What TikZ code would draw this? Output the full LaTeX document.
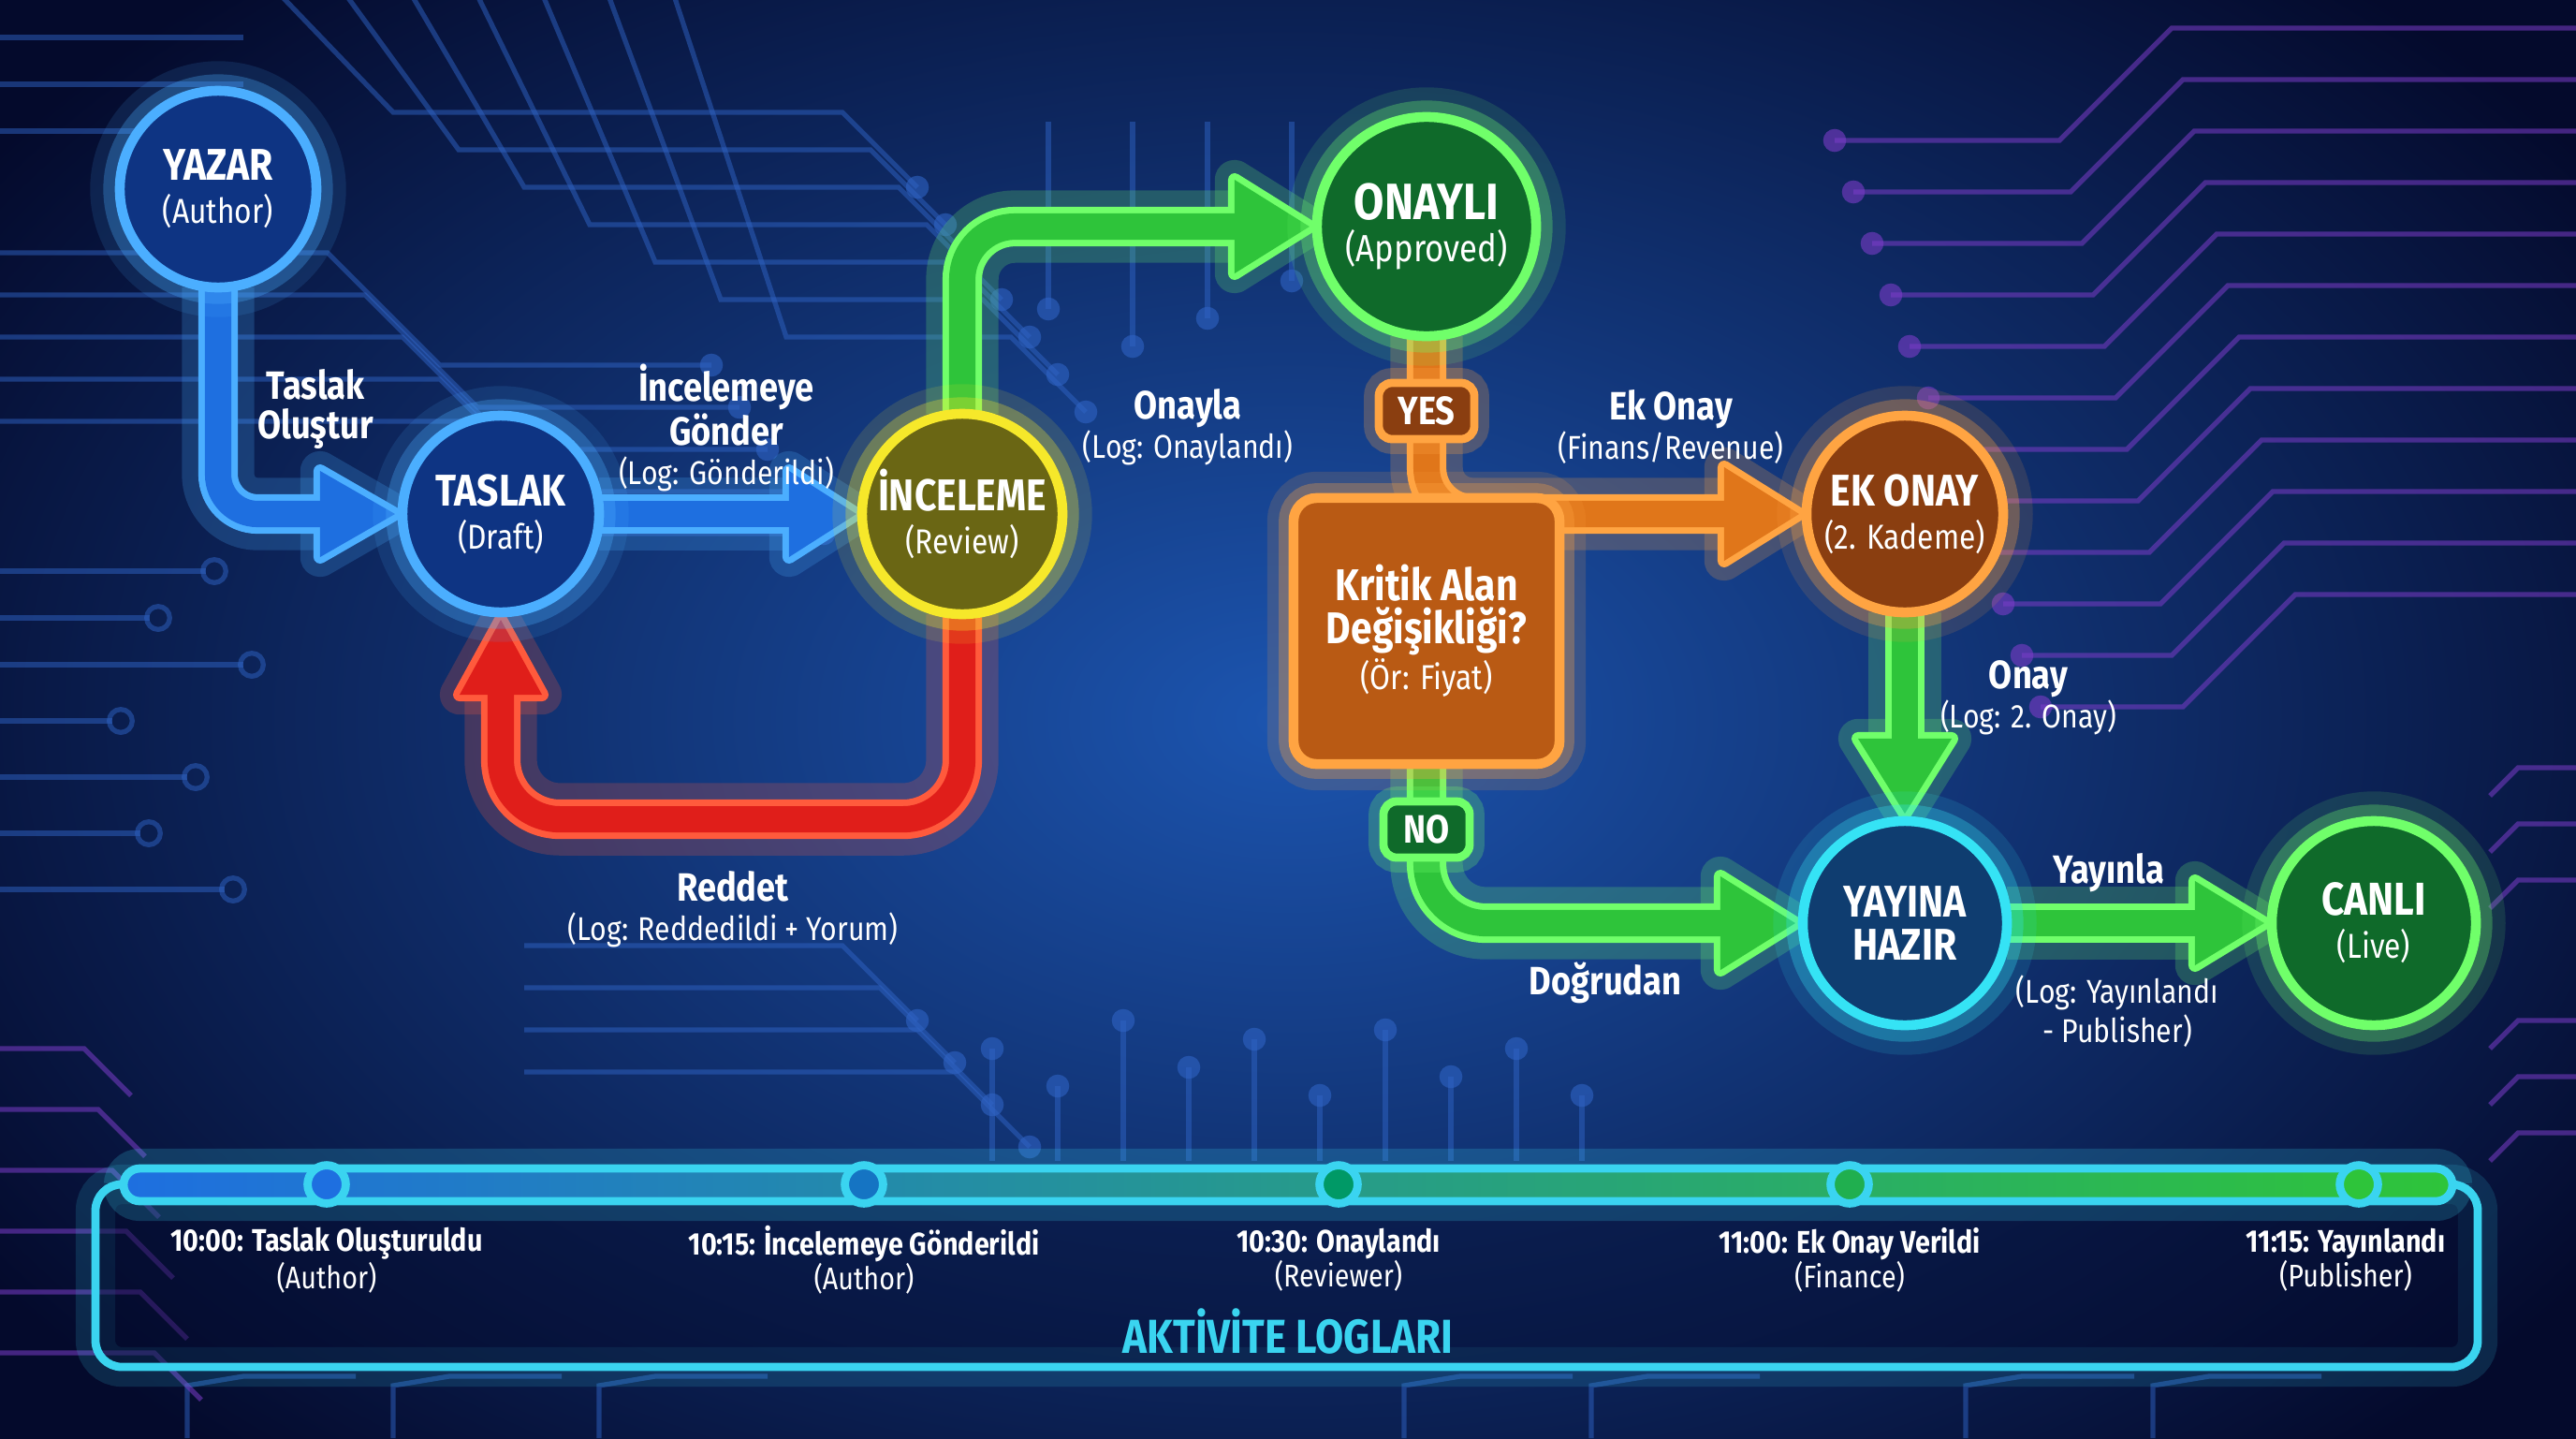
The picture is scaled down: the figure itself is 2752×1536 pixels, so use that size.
\documentclass[tikz,border=0pt]{standalone}
\usepackage{fontspec}
\setmainfont{Fira Sans}[FakeStretch=0.86]
\usetikzlibrary{calc}
\pgfdeclarelayer{bg}\pgfdeclarelayer{arr}
\pgfsetlayers{bg,arr,main}
\definecolor{bgin}{HTML}{1C55B0}
\definecolor{bgout}{HTML}{040A2C}
\definecolor{trace}{HTML}{2F63C4}
\definecolor{tracep}{HTML}{7A3CC8}
\definecolor{bfill}{HTML}{1E6FE0}
\definecolor{bedge}{HTML}{4BAEFF}
\definecolor{gfill}{HTML}{2EC43A}
\definecolor{gedge}{HTML}{70FF6A}
\definecolor{rfill}{HTML}{E01E1A}
\definecolor{redge}{HTML}{FF5A3C}
\definecolor{ofill}{HTML}{E0761A}
\definecolor{oedge}{HTML}{FFA442}
\definecolor{cyanr}{HTML}{35E3F5}
\definecolor{yedge}{HTML}{F6E82A}
\definecolor{nblue}{HTML}{0E3483}
\definecolor{nyell}{HTML}{6A6614}
\definecolor{ngreen}{HTML}{0F6A2A}
\definecolor{norange}{HTML}{8A3E10}
\definecolor{nteal}{HTML}{0F3D70}
\definecolor{boxo}{HTML}{B95A14}
\definecolor{tlc}{HTML}{3AD4F0}
\newcommand\fatarr[4]{%
  \draw[#2, draw opacity=0.22, line width=22pt, line join=round] #3;
  \filldraw[#2, opacity=0.22, line width=12pt, line join=round] #4;
  \draw[#2, line width=12pt] #3;
  \filldraw[#2, line width=4pt, line join=round] #4;
  \draw[#1, line width=8pt] #3;
  \fill[#1] #4;
}
\newcommand\NdT{\bfseries\fontsize{13.5}{15}\selectfont}
\newcommand\NdS{\mdseries\fontsize{10.5}{13}\selectfont}
\newcommand\LbT{\bfseries\fontsize{12}{14}\selectfont}
\tikzset{
  ring/.style n args={3}{circle, draw=#1, fill=#2, line width=3pt, minimum size=#3,
    inner sep=0pt, outer sep=0pt, text=white, align=center,
    font=\fontsize{10.5}{13}\selectfont,
    preaction={draw=#1, line width=18pt, draw opacity=0.13},
    preaction={draw=#1, line width=10pt, draw opacity=0.3}},
  lbl/.style={text=white, align=center, font=\fontsize{10}{12}\selectfont, inner sep=1pt},
  tag/.style n args={2}{rectangle, rounded corners=4pt, draw=#1, fill=#2, line width=2.5pt,
    text=white, font=\bfseries\fontsize{12}{14}\selectfont, inner sep=0pt, outer sep=0pt,
    preaction={draw=#1, line width=9pt, draw opacity=0.25}},
  trc/.style={line width=1.5pt, draw=trace, draw opacity=0.5},
  trp/.style={line width=1.5pt, draw=tracep, draw opacity=0.55},
  tlab/.style={text=white, align=center, font=\fontsize{9.5}{10.5}\selectfont, inner sep=0pt},
}
\begin{document}
\begin{tikzpicture}[x=0.01cm, y=-0.01cm]
\useasboundingbox (0,0) rectangle (2752,1536);
\begin{pgfonlayer}{bg}
\shade[inner color=bgin, outer color=bgout] (-300,-300) rectangle (3052,1836);
% top-left fan
\foreach \i in {0,...,6}{
  \draw[trc] (300+70*\i,-5) -- (420+70*\i,120+40*\i) -- (900+30*\i,120+40*\i) -- (980+30*\i,200+40*\i);
  \fill[trace,opacity=.6] (980+30*\i,200+40*\i) circle (3.5pt);
}
\foreach \i in {0,...,4}{
  \draw[trc] (0,270+45*\i) -- (350+40*\i,270+45*\i) -- (470+40*\i,390+45*\i) -- (760+30*\i,390+45*\i);
  \fill[trace,opacity=.6] (760+30*\i,390+45*\i) circle (3.5pt);
}
\foreach \y in {40,90,140}{\draw[trc] (0,\y) -- (260,\y);}
\foreach \y/\l in {610/220,660/160,710/260,770/120,830/200,890/150,950/240}{
  \draw[trc] (0,\y) -- (\l,\y);
  \draw[trc] (\l+9,\y) circle (3.5pt);
}
\foreach \x/\y in {1120/330,1210/370,1290/340,1380/300}{
  \draw[trc] (\x,130) -- (\x,\y);
  \fill[trace,opacity=.6] (\x,\y) circle (3.5pt);
}
\foreach \i in {0,...,3}{
  \draw[trc] (560,1010+45*\i) -- (900+40*\i,1010+45*\i) -- (980+40*\i,1090+45*\i);
  \fill[trace,opacity=.6] (980+40*\i,1090+45*\i) circle (3.5pt);
}
\foreach \x/\t in {1060/1120,1130/1160,1200/1090,1270/1140,1340/1110,1410/1170,1480/1100,1550/1150,1620/1120,1690/1170}{
  \draw[trc] (\x,1240) -- (\x,\t);
  \fill[trace,opacity=.6] (\x,\t) circle (3.5pt);
}
\foreach \x in {200,420,640,1500,1700,2100,2300}{
  \draw[trc] (\x,1536) -- (\x,1480) -- (\x+60,1470) -- (\x+180,1470);
}
% right purple fan
\foreach \i in {0,...,11}{
  \draw[trp] (2760,30+55*\i) -- (2320+12*\i,30+55*\i) -- (2200+12*\i,150+55*\i) -- (1960+20*\i,150+55*\i);
  \fill[tracep,opacity=.6] (1960+20*\i,150+55*\i) circle (3.5pt);
}
\foreach \y in {820,880,940,1090,1150,1210}{
  \draw[trp] (2760,\y) -- (2690,\y) -- (2660,\y+30);
}
\foreach \i in {0,...,5}{
  \draw[trp] (-5,1120+65*\i) -- (90+15*\i,1120+65*\i) -- (140+15*\i,1170+65*\i);
}
\end{pgfonlayer}

% nodes
\node[ring={bedge}{nblue}{2.10cm}] (yazar) at (233,202) {{\NdT YAZAR}\\{\NdS (Author)}};
\node[ring={bedge}{nblue}{2.10cm}] (taslak) at (535,549) {{\NdT TASLAK}\\{\NdS (Draft)}};
\node[ring={yedge}{nyell}{2.14cm}] (inceleme) at (1028,549) {{\NdT İNCELEME}\\{\NdS (Review)}};
\node[ring={gedge}{ngreen}{2.34cm}] (onayli) at (1524,242) {{\bfseries\fontsize{15.5}{17}\selectfont ONAYLI}\\{\fontsize{11.5}{14}\selectfont (Approved)}};
\node[rectangle, rounded corners=7pt, draw=oedge, fill=boxo, line width=3pt, minimum width=2.84cm, minimum height=2.84cm,
  inner sep=0pt, outer sep=0pt, text=white, align=center, font=\fontsize{10.5}{13}\selectfont,
  preaction={draw=oedge, line width=16pt, draw opacity=0.15}, preaction={draw=oedge, line width=9pt, draw opacity=0.3}]
  (karar) at (1524,674) {{\NdT Kritik Alan}\\{\NdT Değişikliği?}\\[1pt]{\NdS (Ör: Fiyat)}};
\node[tag={oedge}{norange}, minimum width=1.02cm, minimum height=0.6cm] (yes) at (1524,439) {YES};
\node[tag={gedge}{ngreen}, minimum width=0.92cm, minimum height=0.6cm] (no) at (1524,886) {NO};
\node[ring={oedge}{norange}{2.10cm}] (ekonay) at (2035,549) {{\NdT EK ONAY}\\{\NdS (2. Kademe)}};
\node[ring={cyanr}{nteal}{2.18cm}] (yayina) at (2035,986) {{\NdT YAYINA}\\{\NdT HAZIR}};
\node[ring={gedge}{ngreen}{2.18cm}] (canli) at (2536,986) {{\bfseries\fontsize{14}{15}\selectfont CANLI}\\{\NdS (Live)}};

% arrows
\begin{pgfonlayer}{arr}
\fatarr{bfill}{bedge}{(yazar.south) [rounded corners=12pt] |- ($(taslak.west)+(-76,0)$)}
  {($(taslak.west)+(-88,-46)$) -- ($(taslak.west)+(-8,0)$) -- ($(taslak.west)+(-88,46)$) -- cycle}
\fatarr{bfill}{bedge}{(taslak.east) -- ($(inceleme.west)+(-66,0)$)}
  {($(inceleme.west)+(-78,-46)$) -- ($(inceleme.west)+(-6,0)$) -- ($(inceleme.west)+(-78,46)$) -- cycle}
\fatarr{gfill}{gedge}{(inceleme.north) [rounded corners=16pt] |- ($(onayli.west)+(-76,0)$)}
  {($(onayli.west)+(-88,-50)$) -- ($(onayli.west)+(-8,0)$) -- ($(onayli.west)+(-88,50)$) -- cycle}
\fatarr{rfill}{redge}{(inceleme.south) [rounded corners=18pt] -- ++(0,219) -| ($(taslak.south)+(0,76)$)}
  {($(taslak.south)+(-44,88)$) -- ($(taslak.south)+(0,8)$) -- ($(taslak.south)+(44,88)$) -- cycle}
\fatarr{ofill}{oedge}{(onayli.south) [rounded corners=14pt] |- ($(ekonay.west)+(-76,0)$)}
  {($(ekonay.west)+(-88,-50)$) -- ($(ekonay.west)+(-8,0)$) -- ($(ekonay.west)+(-88,50)$) -- cycle}
\fatarr{gfill}{gedge}{(karar.south) [rounded corners=18pt] |- ($(yayina.west)+(-76,0)$)}
  {($(yayina.west)+(-88,-50)$) -- ($(yayina.west)+(-8,0)$) -- ($(yayina.west)+(-88,50)$) -- cycle}
\fatarr{gfill}{gedge}{(ekonay.south) -- ($(yayina.north)+(0,-76)$)}
  {($(yayina.north)+(-50,-88)$) -- ($(yayina.north)+(0,-8)$) -- ($(yayina.north)+(50,-88)$) -- cycle}
\fatarr{gfill}{gedge}{(yayina.east) -- ($(canli.west)+(-70,0)$)}
  {($(canli.west)+(-82,-45)$) -- ($(canli.west)+(-8,0)$) -- ($(canli.west)+(-82,45)$) -- cycle}
\end{pgfonlayer}

% labels
\node[lbl] (l1) at (337,437) {{\LbT Taslak}\\{\LbT Oluştur}};
\node[lbl] (l2) at (776,457) {{\LbT İncelemeye}\\{\LbT Gönder}\\(Log: Gönderildi)};
\node[lbl] (l3) at (1269,456) {{\LbT Onayla}\\(Log: Onaylandı)};
\node[lbl] (l4) at (783,971) {{\LbT Reddet}\\(Log: Reddedildi + Yorum)};
\node[lbl] (l5) at (1785,456) {{\LbT Ek Onay}\\(Finans/Revenue)};
\node[lbl] (l6) at (2167,745) {{\LbT Onay}\\(Log: 2. Onay)};
\node[lbl] (l7) at (1715,1050) {\LbT Doğrudan};
\node[lbl] (l8) at (2253,932) {\LbT Yayınla};
\node[lbl] (l9) at (2262,1080) {(Log: Yayınlandı\\- Publisher)};

% activity log panel
\draw[tlc, line width=12pt, draw opacity=0.15, rounded corners=8pt] (102,1265) rectangle (2647,1460);
\draw[tlc, line width=2.5pt, fill=bgout, fill opacity=0.45, rounded corners=8pt] (102,1265) rectangle (2647,1460);
\draw[tlc, line width=12pt, draw opacity=0.2, rounded corners=5pt] (132,1248) rectangle (2620,1283);
\shade[left color=bfill, middle color=teal!70!bfill, right color=gfill, rounded corners=5pt] (132,1248) rectangle (2620,1283);
\draw[tlc, line width=2.5pt, rounded corners=5pt] (132,1248) rectangle (2620,1283);
\foreach \x/\c in {349/bfill,923/bfill!70!teal,1430/teal!80!green,1976/gfill!70!teal,2520/gfill}{
  \draw[tlc, line width=2.5pt, fill=\c] (\x,1265) circle (5.8pt);
}
\node[tlab] (t1) at (349,1346) {{\bfseries 10:00: Taslak Oluşturuldu}\\(Author)};
\node[tlab] (t2) at (923,1346) {{\bfseries 10:15: İncelemeye Gönderildi}\\(Author)};
\node[tlab] (t3) at (1430,1346) {{\bfseries 10:30: Onaylandı}\\(Reviewer)};
\node[tlab] (t4) at (1976,1346) {{\bfseries 11:00: Ek Onay Verildi}\\(Finance)};
\node[tlab] (t5) at (2506,1346) {{\bfseries 11:15: Yayınlandı}\\(Publisher)};
\node[text=tlc, font=\bfseries\fontsize{14.5}{16}\selectfont] (title) at (1376,1422) {AKTİVİTE LOGLARI};
\end{tikzpicture}
\end{document}
